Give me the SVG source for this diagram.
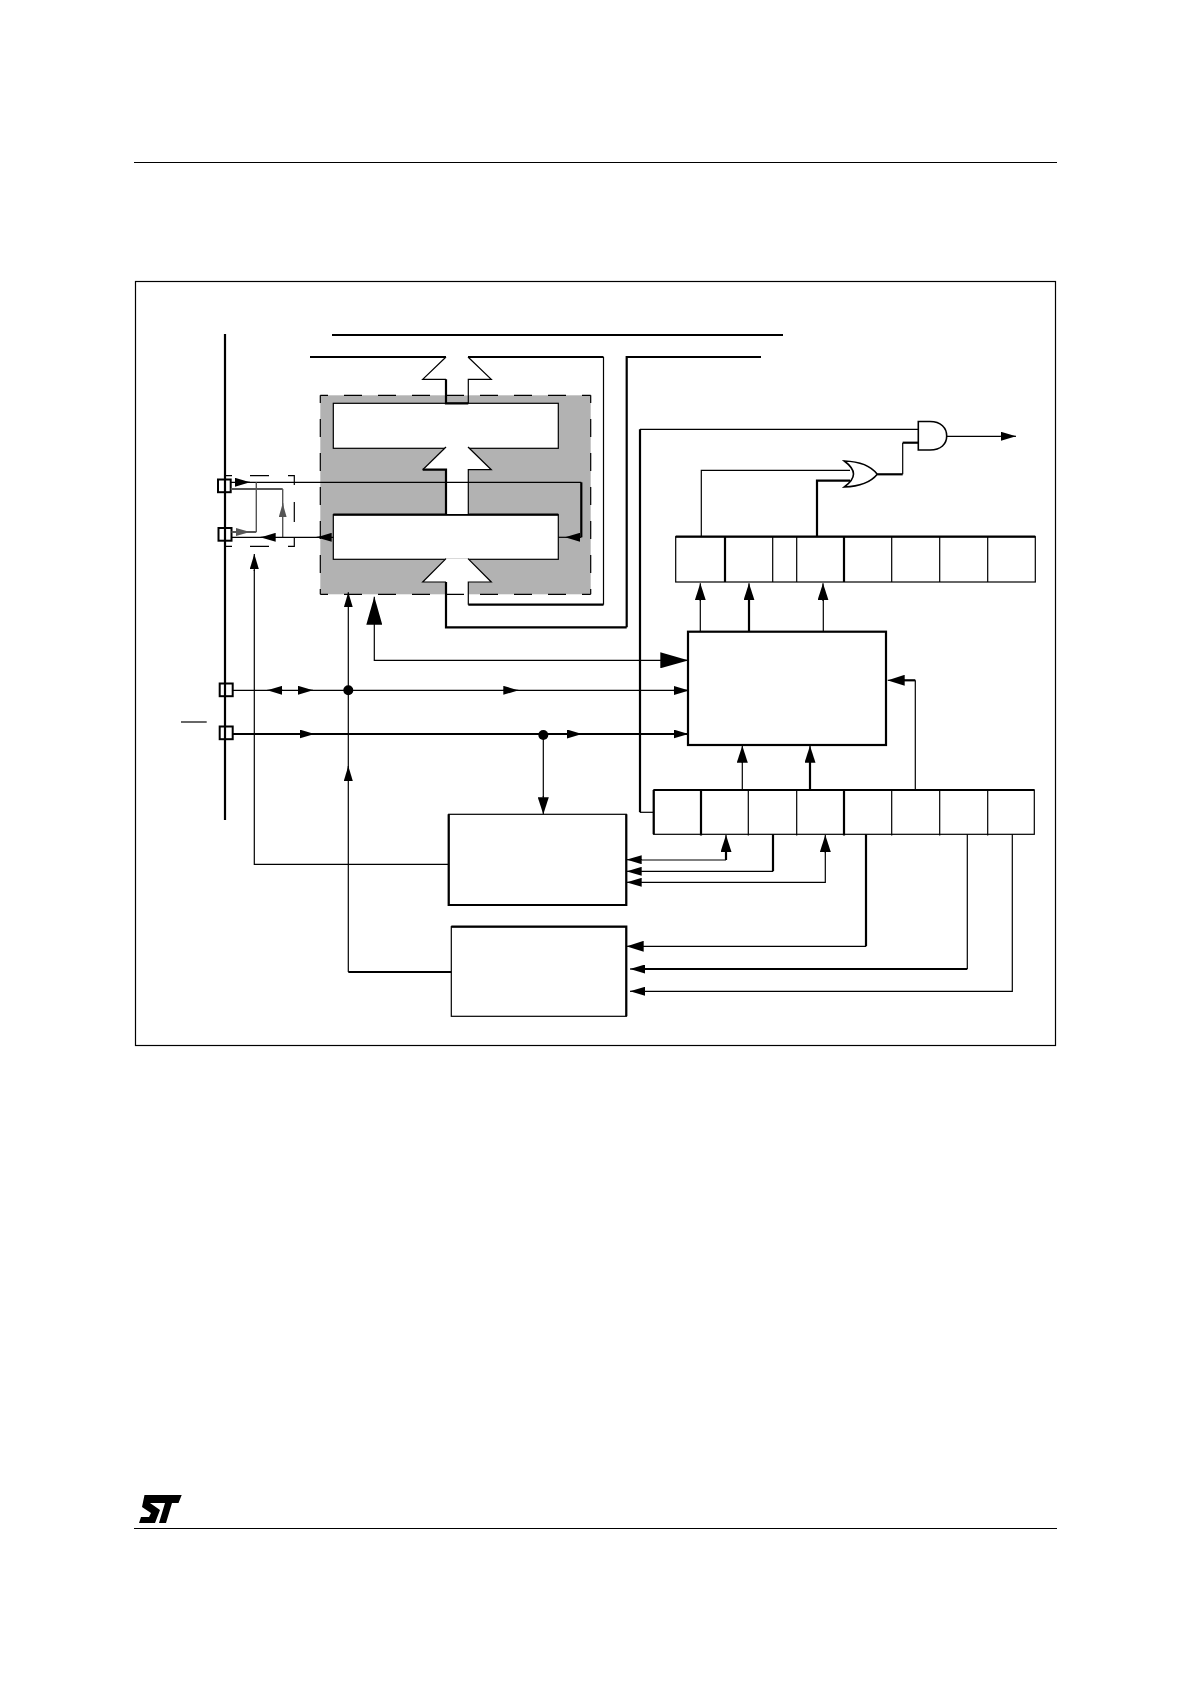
<svg xmlns="http://www.w3.org/2000/svg" width="1191" height="1685" viewBox="0 0 1191 1685">
<style>
.t{fill:none;stroke:#000;stroke-width:1.2}
.k{fill:none;stroke:#000;stroke-width:2.2}
.g{fill:none;stroke:#555;stroke-width:1.4}
.gk{fill:none;stroke:#555;stroke-width:2}
.box{fill:#fff;stroke:#000;stroke-width:1.2}
.boxk{fill:#fff;stroke:#000;stroke-width:2.2}
.gate{fill:#fff;stroke:#000;stroke-width:1.6}
.pad{fill:#fff;stroke:#000;stroke-width:2}
.dash{fill:none;stroke:#000;stroke-width:1.2;stroke-dasharray:18 16;stroke-dashoffset:10.3}
.w{fill:#fff;stroke:none}
.s{marker-end:url(#as)}
.m{marker-end:url(#am)}
.b{marker-end:url(#ab)}
.gm{marker-end:url(#ag)}
</style>
<defs>
<marker id="as" markerUnits="userSpaceOnUse" markerWidth="15" markerHeight="9" viewBox="0 0 15 9" refX="15" refY="4.5" orient="auto"><polygon points="0,0 15,4.5 0,9"/></marker>
<marker id="am" markerUnits="userSpaceOnUse" markerWidth="17" markerHeight="11" viewBox="0 0 17 11" refX="17" refY="5.5" orient="auto"><polygon points="0,0 17,5.5 0,11"/></marker>
<marker id="ab" markerUnits="userSpaceOnUse" markerWidth="28" markerHeight="16" viewBox="0 0 28 16" refX="28" refY="8" orient="auto"><polygon points="0,0 28,8 0,16"/></marker>
<marker id="ag" markerUnits="userSpaceOnUse" markerWidth="14" markerHeight="8" viewBox="0 0 14 8" refX="14" refY="4" orient="auto"><polygon points="0,0 14,4 0,8" fill="#555"/></marker>
</defs>
<rect width="1191" height="1685" fill="#fff"/>
<g id="page-rules">
<line class="t" x1="134" y1="162.5" x2="1057" y2="162.5"/>
<line class="t" x1="134" y1="1528.5" x2="1057" y2="1528.5"/>
</g>
<g id="logo">
<polygon points="144.5,1495 181.7,1495 178.5,1503 172,1503 166,1523 159,1523 165,1503 150,1503 160,1510 155,1523 139,1523 141,1517 149,1517 151,1513 142,1507"/>
</g>
<rect id="frame" class="t" x="135.5" y="281.5" width="920" height="764"/>
<g id="memory-block">
<rect x="320.3" y="395.3" width="270.4" height="199" fill="#b2b2b2"/>
<rect id="register-top" class="box" x="333.3" y="403.3" width="225" height="45"/>
<rect id="register-bottom" class="box" x="333.3" y="514.7" width="225" height="44.6"/>
<line class="k" x1="333.3" y1="514.7" x2="558.3" y2="514.7"/>
</g>
<g id="control-logic"><rect class="boxk" x="688" y="631.7" width="198" height="113.3"/></g>
<g id="block-a">
<rect class="box" x="448.7" y="814.3" width="177.6" height="90.7"/>
<path class="k" d="M448.7 814.3V905H626.3V814.3"/>
</g>
<g id="block-b">
<rect class="box" x="451.3" y="926.7" width="175" height="89.6"/>
<path class="k" d="M451.3 926.7H626.3V1016.3"/>
</g>
<g id="register-status">
<rect class="box" x="675.7" y="536.7" width="359.6" height="45.3"/>
<line class="k" x1="675.7" y1="536.7" x2="1035.3" y2="536.7"/>
<path class="k" d="M725 536.7V582M844 536.7V582"/>
<path class="t" d="M772.7 536.7V582M796.7 536.7V582M891.7 536.7V582M939.7 536.7V582M987.7 536.7V582"/>
</g>
<g id="register-control">
<rect class="box" x="653.7" y="790" width="380.6" height="44.3"/>
<line class="k" x1="653.7" y1="790" x2="1034.3" y2="790"/>
<path class="k" d="M653.7 790V834.3M701 790V835.5M844 790V835.5"/>
<path class="t" d="M748.3 790V835.5M796.7 790V835.5M891.7 790V835.5M939.7 790V835.5M987.7 790V835.5"/>
</g>
<g id="gate-and">
<path class="gate" d="M918.3 421.5H930C941 421.5 946.7 428 946.7 436C946.7 444 941 450 930 450H918.3Z"/>
</g>
<g id="gate-or">
<path class="gate" d="M844.3 461C860 461.5 871 466 877.3 474.3C871 482 860 486.5 844.3 487C851 482 853.5 478 853.5 474C853.5 470 851 466 844.3 461Z"/>
</g>
<g id="pad-1"><rect class="pad" x="218" y="479.5" width="12.7" height="12.7"/></g>
<g id="pad-2"><rect class="pad" x="218.5" y="528" width="13" height="12.7"/></g>
<g id="pad-3"><rect class="pad" x="219.7" y="683.5" width="13" height="12.7"/></g>
<g id="pad-4"><rect class="pad" x="219.7" y="726.5" width="13" height="12.7"/></g>
<g id="connectors">
<polygon class="w" points="446,357 422.7,379.3 446,379.3 446,395.3 468.3,395.3 468.3,379.3 491.3,379.3 468,357"/>
<polygon class="w" points="446,447 422.7,469.7 446,469.7 446,514 468.3,514 468.3,469.7 491.3,469.7 468,447"/>
<polygon class="w" points="446,558.5 422.7,582 446,582 446,595 468.3,595 468.3,582 491.3,582 468,558.5"/>
<path class="k" d="M310 357H446"/>
<path class="t" d="M446 357L422.7 379.3H446"/>
<path class="k" d="M446 379.3V403.3H468.3"/>
<path class="t" d="M468.3 403.3V379.3H491.3L468 357"/>
<path class="k" d="M468 357H603.5"/>
<path class="t" d="M603.5 357V604.7"/>
<path class="k" d="M603.5 604.7H468.3"/>
<path class="t" d="M468.3 604.7V582H491.3L468 558.7"/>
<path class="t" d="M446 447L422.7 469.7"/>
<path class="k" d="M422.7 469.7H446V514.7"/>
<path class="t" d="M468.3 514.7V469.7H491.3L468 447"/>
<path class="t" d="M446 558.7L422.7 582H446"/>
<path class="k" d="M446 582V627.3H626.7"/>
<path class="k" d="M626.7 627.3V357H761"/>
<line class="k" x1="332" y1="335" x2="783" y2="335"/>
<line class="k" x1="225" y1="334" x2="225" y2="820"/>
<path class="dash" d="M320.3 395.3H590.7"/>
<path class="dash" d="M320.3 594.3H590.7"/>
<path class="dash" d="M320.3 395.3V594.3"/>
<path class="dash" d="M590.7 395.3V594.3"/>
<path class="t" d="M225 475.7H232M250 475.7H269M288 475.7H294.3V485M294.3 502V522M294.3 537V546.3H288M269 546.3H250M232 546.3H225"/>
<path class="t" d="M230.7 482.3H581.3"/>
<path class="k" d="M581.3 482.3V537.3"/>
<path class="t s" d="M581.3 537.3H565"/>
<path class="t" d="M565 537.3H558.3"/>
<path class="t s" d="M236 482.3H250"/>
<path class="gk" d="M230.7 489H282.7"/>
<path class="g" d="M282.7 489V537"/>
<path class="g gm" d="M282.7 517V503.3"/>
<path class="g" d="M256.3 482.3V532"/>
<path class="gk" d="M256.3 532H231.5"/>
<path class="g gm" d="M236 532H250"/>
<path class="t" d="M231.5 537.3H333.3"/>
<path class="t s" d="M275 537.3H260.7"/>
<path class="t s" d="M329.3 537.3H316.7"/>
<path class="t" d="M448.7 864.3H254.3V570"/>
<path class="t s" d="M254.3 571V554"/>
<path class="k" d="M451.3 972H348.3"/>
<path class="t" d="M348.3 972V610"/>
<path class="t s" d="M348.3 610V592.3"/>
<path class="t s" d="M348.3 781V766"/>
<path class="t" d="M374.3 623V660.3H660"/>
<path class="t b" d="M374.3 624V596.7"/>
<path class="t b" d="M660 660.3H688.3"/>
<path class="t" d="M232.7 690.3H688"/>
<path class="t s" d="M282.7 690.3H267.3"/>
<path class="t s" d="M299 690.3H313"/>
<path class="t s" d="M503.3 690.3H518.3"/>
<path class="t s" d="M673 690.5H689"/>
<path class="k" d="M232.7 734H688"/>
<path class="t s" d="M300 734H314.5"/>
<path class="t s" d="M568 734H582"/>
<path class="t s" d="M673 734H688.5"/>
<circle cx="348.3" cy="690.3" r="5"/>
<circle cx="543.3" cy="735" r="5"/>
<path class="t" d="M543.3 735V797"/>
<path class="t m" d="M543.3 796V814.3"/>
<line class="t" x1="181" y1="722" x2="206.7" y2="722"/>
<path class="t" d="M640 429.3H919"/>
<path class="k" d="M640 429.3V812.3"/>
<path class="t" d="M640 812.3H653.7"/>
<path class="t" d="M946.7 436.3H1000"/>
<path class="t s" d="M1000 436.3H1016"/>
<path class="t" d="M701.3 536.7V470.3H850"/>
<path class="k" d="M817 536.7V480.7H850"/>
<path class="k" d="M877.3 474.3H902.7"/>
<path class="t" d="M902.7 474.3V442.7"/>
<path class="k" d="M902.7 442.7H918.3"/>
<path class="t" d="M700.3 631.7V600"/>
<path class="t m" d="M700.3 601V583.3"/>
<path class="k" d="M749 631.7V600"/>
<path class="t m" d="M749 601V583.3"/>
<path class="t" d="M823.3 631.7V600"/>
<path class="t m" d="M823 601V583.3"/>
<path class="t" d="M742.3 790V762"/>
<path class="t m" d="M742.3 763V745.7"/>
<path class="k" d="M810 790V762"/>
<path class="t m" d="M810 763V745.7"/>
<path class="t" d="M915.3 790V680.3"/>
<path class="k" d="M915.3 680.3H904"/>
<path class="t m" d="M905 680.3H887.7"/>
<path class="k" d="M726 852V860"/>
<path class="t" d="M726 860H642"/>
<path class="t m" d="M726 852.7V835"/>
<path class="t s" d="M642 859.7H626.7"/>
<path class="k" d="M773 834.3V871.3"/>
<path class="t" d="M773 871.3H642"/>
<path class="t s" d="M642 871.3H626.7"/>
<path class="t" d="M825.3 852V882.3H642"/>
<path class="t m" d="M825.3 852.7V835"/>
<path class="t s" d="M642 882.3H626.7"/>
<path class="k" d="M866 834.3V946.3"/>
<path class="t" d="M866 946.3H642"/>
<path class="t m" d="M642 946.3H626.7"/>
<path class="t" d="M967.3 834.3V969"/>
<path class="k" d="M967.3 969H642"/>
<path class="t s" d="M642 969H630"/>
<path class="t" d="M1012.3 834.3V991.3H642"/>
<path class="t s" d="M642 991.3H630"/>
</g>
</svg>
